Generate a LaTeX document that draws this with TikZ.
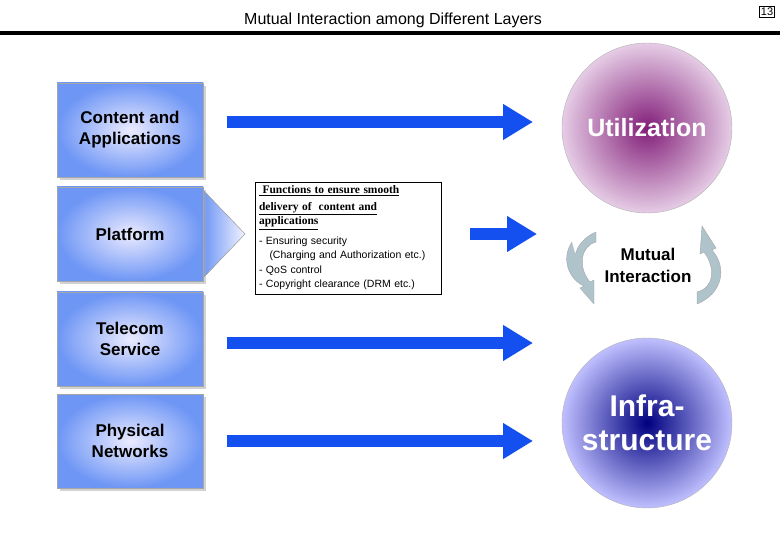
\documentclass[tikz,border=0pt]{standalone}
\usepackage{fontspec}
\setmainfont{Liberation Sans}
\usetikzlibrary{positioning, arrows.meta, shadows}

\definecolor{flowblue}{RGB}{20,80,240}
\definecolor{boxblue}{RGB}{110,150,245}
\definecolor{plum}{RGB}{130,30,120}

\tikzset{
    layer/.style={draw=gray!70, minimum width=146pt, minimum height=94pt, inner color=blue!8, outer color=boxblue, font=\bfseries\fontsize{17}{21}\selectfont, align=center, drop shadow={shadow xshift=3pt, shadow yshift=-3pt, fill=gray!70}},
    flow/.style={-{Triangle[length=30pt,width=34pt]}, line width=12pt, draw=flowblue},
    ball/.style={circle, draw=gray!60, minimum size=170pt, text=white, font=\bfseries\fontsize{25}{30}\selectfont, align=center},
    swirl/.style={fill=cyan!25!gray!60, draw=gray!70}
}

\begin{document}
\begin{tikzpicture}[x=1pt, y=-1pt]
    \useasboundingbox (0,0) rectangle (780,540);

    % title
    \node (title) at (393,20) {\fontsize{16}{19}\selectfont Mutual Interaction among Different Layers};
    \fill (0,31) rectangle (780,35);
    \node[draw, inner sep=1.5pt, font=\fontsize{11}{13}\selectfont] (page) at (767,12) {13};

    % layers
    \node[layer] (content) at (130,130) {Content and\\Applications};
    \fill[left color=boxblue, right color=blue!5, draw=gray!70] (203,190) -- (245,234) -- (203,278) -- cycle;
    \node[layer] (platform) at (130,234) {Platform};
    \node[layer] (telecom) at (130,339) {Telecom\\Service};
    \node[layer] (physical) at (130,441) {Physical\\Networks};

    % platform functions
    \node[draw, fill=white, text width=178pt, align=left, inner sep=4pt, font=\fontsize{10.5}{14.5}\selectfont] (functions) at (348,238)
        {{\fontspec{Liberation Serif}\fontsize{11.5}{16.5}\selectfont\bfseries\underline{\ Functions to ensure smooth}\\\underline{delivery of\ \ content and}\\\underline{applications}}\\[5pt]
         - Ensuring security\\\ \ \ (Charging and Authorization etc.)\\- QoS control\\- Copyright clearance (DRM etc.)};

    % circles
    \node[ball, inner color=plum, outer color=violet!20!white] (util) at (647,128) {Utilization};
    \node[ball, inner color=blue!50!black, outer color=blue!25!white, font=\bfseries\fontsize{30}{34}\selectfont] (infra) at (647,423) {Infra-\\structure};
    \node[font=\bfseries\fontsize{17}{22}\selectfont, align=center] (mutual) at (648,265) {Mutual\\Interaction};

    % flows
    \coordinate (c1) at (227,122);
    \coordinate (c2) at (470,234);
    \coordinate (c3) at (227,343);
    \coordinate (c4) at (227,441);
    \draw[flow] (c1) -- (533,122);
    \draw[flow] (c2) -- (537,234);
    \draw[flow] (c3) -- (533,343);
    \draw[flow] (c4) -- (533,441);

    % mutual arrows
    \draw[swirl] (596,232) .. controls (572,242) and (568,268) .. (584,286) -- (580,288) -- (594,304) -- (594,280) -- (590,282)
        .. controls (578,268) and (580,246) .. (596,242) -- cycle;
    \draw[swirl] (572,242) .. controls (560,260) and (570,280) .. (584,286);
    \draw[swirl] (697,304) .. controls (722,294) and (728,268) .. (712,250) -- (716,248) -- (702,226) -- (700,254) -- (704,252)
        .. controls (716,268) and (714,288) .. (697,292) -- cycle;
\end{tikzpicture}
\end{document}
